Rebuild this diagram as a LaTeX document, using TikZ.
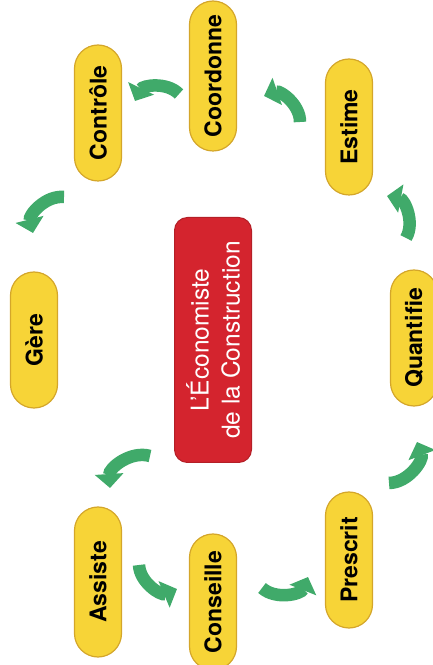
\documentclass[tikz,border=0pt]{standalone}
\usepackage{fontspec}
\setmainfont{TeX Gyre Heros}
\usetikzlibrary{arrows.meta}
\definecolor{pillyellow}{RGB}{247,212,55}
\definecolor{pillrim}{RGB}{212,166,42}
\definecolor{corered}{RGB}{212,36,46}
\definecolor{turngreen}{RGB}{64,170,106}
\tikzset{
    x=1pt, y=1pt, % one unit is one pixel of the scan
    pill/.style={rectangle, rotate=90, rounded corners=23.5pt,
      fill=pillyellow, draw=pillrim, line width=1.2pt,
      minimum width=136pt, minimum height=47pt, inner sep=0pt,
      font=\fontsize{23}{30}\selectfont\bfseries}, % the yellow verbs
    core/.style={rectangle, rotate=90, rounded corners=13pt,
      fill=corered, draw=corered!85!black, line width=1pt,
      minimum width=245pt, minimum height=77pt, inner sep=0pt,
      text=white, align=center, font=\fontsize{24.5}{31}\selectfont},
    turn/.style={-{Triangle[width=28pt,length=14pt]},
      line width=12.5pt, color=turngreen}, % the green bent arrows
}
\begin{document}
\begin{tikzpicture}[]
  \useasboundingbox (0,0) rectangle (433,665);

  % centre
  \node[core] (c) at (213,325) {L'Économiste\\de la Construction};

  % the eight verbs, going round
  \node[pill, minimum width=150pt] (p_0) at (98,83)   {Assiste};
  \node[pill]                      (p_1) at (213,63)  {Conseille};
  \node[pill]                      (p_2) at (349,105) {Prescrit};
  \node[pill]                      (p_3) at (414,327) {Quantifie};
  \node[pill]                      (p_4) at (349,538) {Estime};
  \node[pill, minimum width=150pt] (p_5) at (213,589) {Coordonne};
  \node[pill]                      (p_6) at (98,552)  {Contrôle};
  \node[pill]                      (p_7) at (34,325)  {Gère};

  % ends of the arrows
  \coordinate (s_0) at (139,100); \coordinate (t_0) at (177,76);
  \coordinate (s_1) at (262,77);  \coordinate (t_1) at (308,88);
  \coordinate (s_2) at (389,182); \coordinate (t_2) at (417,223);
  \coordinate (s_3) at (406,427); \coordinate (t_3) at (387,469);
  \coordinate (s_4) at (300,543); \coordinate (t_4) at (264,569);
  \coordinate (s_5) at (179,571); \coordinate (t_5) at (135,564);
  \coordinate (s_6) at (64,468);  \coordinate (t_6) at (33,432);
  \coordinate (s_7) at (150,209); \coordinate (t_7) at (110,177);

  \path[turn]
    (s_0) edge[bend right=55] (t_0)
    (s_1) edge[bend right=55] (t_1)
    (s_2) edge[bend right=55] (t_2)
    (s_3) edge[bend right=55] (t_3)
    (s_4) edge[bend right=55] (t_4)
    (s_5) edge[bend right=55] (t_5)
    (s_6) edge[bend right=55] (t_6)
    (s_7) edge[bend right=55] (t_7);
\end{tikzpicture}
\end{document}
